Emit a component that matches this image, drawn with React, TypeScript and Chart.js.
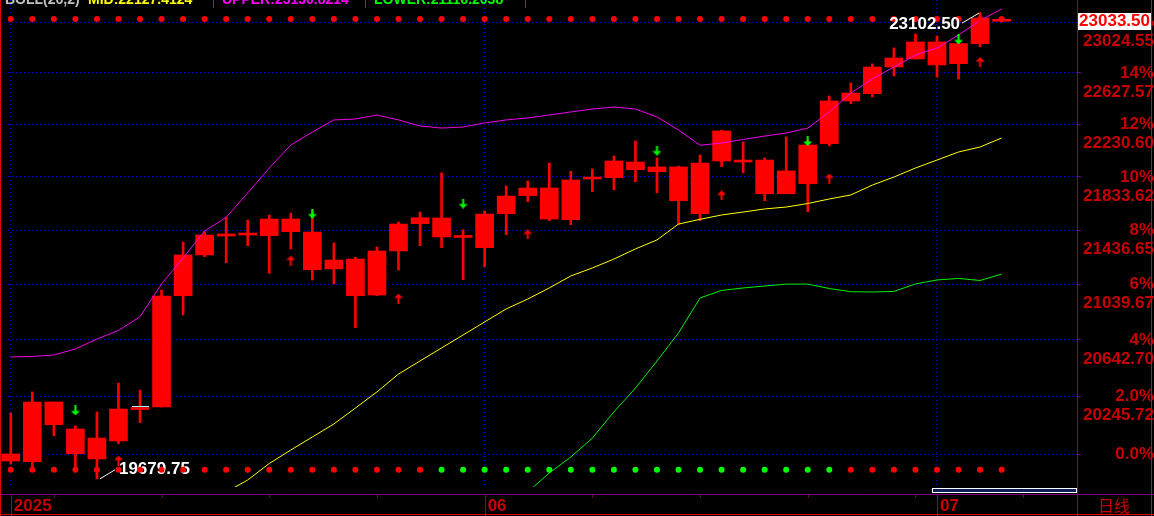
import React, { useEffect, useRef } from 'react';
import { Chart, registerables } from 'chart.js';

Chart.register(...registerables);

// ---------------- data ----------------
const dates = [
  '2025-05-01', '2025-05-02', '2025-05-05', '2025-05-06', '2025-05-07', '2025-05-08', '2025-05-09',
  '2025-05-12', '2025-05-13', '2025-05-14', '2025-05-15', '2025-05-16',
  '2025-05-19', '2025-05-20', '2025-05-21', '2025-05-22', '2025-05-23',
  '2025-05-26', '2025-05-27', '2025-05-28', '2025-05-29', '2025-05-30',
  '2025-06-02', '2025-06-03', '2025-06-04', '2025-06-05', '2025-06-06',
  '2025-06-09', '2025-06-10', '2025-06-11', '2025-06-12', '2025-06-13',
  '2025-06-16', '2025-06-17', '2025-06-18', '2025-06-19', '2025-06-20',
  '2025-06-23', '2025-06-24', '2025-06-25', '2025-06-26', '2025-06-27',
  '2025-06-30', '2025-07-01', '2025-07-02', '2025-07-03', '2025-07-04',
];
const futureSlots = ['', '', ''];

const opens = [
  19801, 19796, 20207, 20020, 19958, 19938, 20155, 20172, 20959, 21255,
  21394, 21401, 21396, 21426, 21423, 21218, 21225, 20964, 21284, 21485,
  21387, 21383, 21308, 21559, 21693, 21750, 21514, 21817, 21827, 21945,
  21908, 21908, 21559, 21953, 21945, 21960, 21707, 21782, 22084, 22411,
  22467, 22674, 22737, 22870, 22700, 22857, 23033.5,
];
const highs = [
  20131, 20277, 20207, 20041, 20138, 20339, 20290, 21000, 21350, 21426,
  21534, 21512, 21549, 21562, 21586, 21343, 21238, 21313, 21497, 21571,
  21863, 21440, 21579, 21765, 21802, 21938, 21875, 21893, 21991, 22104,
  21976, 21915, 21998, 22185, 22097, 21976, 22135, 22112, 22449, 22550,
  22698, 22823, 22933, 22917, 22878, 23102.5, 23038,
];
const lows = [
  19781, 19762, 19974, 19753, 19679.75, 19919, 20064, 20172, 20821, 21242,
  21198, 21323, 21121, 21299, 21073, 21046, 20730, 20959, 21145, 21323,
  21308, 21075, 21169, 21404, 21648, 21507, 21477, 21722, 21737, 21797,
  21715, 21477, 21507, 21910, 21865, 21655, 21707, 21573, 22067, 22390,
  22441, 22604, 22737, 22596, 22581, 22833, 23029,
];
const closes = [
  19849, 20207, 20050, 19851, 19815, 20158, 20155, 20957, 21255, 21401,
  21394, 21401, 21519, 21519, 21147, 21153, 20959, 21284, 21482, 21529,
  21527, 21383, 21556, 21690, 21750, 21519, 21810, 21817, 21953, 21887,
  21872, 21655, 21938, 22181, 21945, 21707, 21878, 22074, 22411, 22472,
  22674, 22744, 22870, 22690, 22857, 23059, 23033.5,
];

// Bollinger-style bands
const upperBand = [
  20522, 20526, 20536, 20579, 20649, 20710, 20808, 21044, 21233, 21431,
  21531, 21713, 21900, 22074, 22173, 22265, 22272, 22303, 22265, 22219,
  22203, 22211, 22242, 22265, 22280, 22303, 22326, 22349, 22364, 22349,
  22288, 22188, 22072, 22089, 22116, 22142, 22165, 22203, 22326, 22472,
  22581, 22674, 22768, 22823, 22925, 23040, 23131,
];
const midBand = [
  19180, 19230, 19280, 19330, 19380, 19420, 19460, 19500, 19530, 19560,
  19591, 19672, 19784, 19876, 19965, 20055, 20165, 20277, 20402, 20494,
  20586, 20678, 20771, 20864, 20935, 21015, 21102, 21160, 21225, 21299,
  21365, 21482, 21517, 21549, 21571, 21594, 21608, 21634, 21668, 21698,
  21772, 21832, 21900, 21960, 22021, 22059, 22127,
];
const lowerBand = [
  18100, 18150, 18200, 18250, 18300, 18350, 18400, 18450, 18500, 18550,
  18600, 18650, 18700, 18750, 18800, 18850, 18900, 18950, 19000, 19100,
  19200, 19300, 19400, 19500, 19591, 19720, 19828, 19958, 20138, 20304,
  20494, 20692, 20943, 20997, 21015, 21029, 21043, 21043, 21011, 20988,
  20986, 20990, 21044, 21073, 21084, 21069, 21116,
];

// signals
const downSignalIdx = [3, 14, 21, 30, 37, 44];
const downSignalPrice = [20148, 21560, 21634, 22032, 22104, 22890];
const upSignalIdx = [5, 13, 18, 24, 33, 38, 45];
const upSignalPrice = [19804, 21214, 20939, 21405, 21694, 21821, 22713];

const topDotLevel = 23051;
const bottomDotLevel = 19742;
const bottomDotState = 'RRRRRRRRRRRRRRRRRRRRGGGGGGGGGGGGGGGGGGGRRRRRRRR'.split('');

const lastPrice = 23033.5;
const markerIdx = 6; // small cyan marker on this bar's close

// axis
const basePrice = 19848.75;
const pctLevels = [0, 2, 4, 6, 8, 10, 12, 14, 16];
const pctLabels = ['0.0%', '2.0%', '4%', '6%', '8%', '10%', '12%', '14%', '16%'];
const priceLabels = ['', '20245.72', '20642.70', '21039.67', '21436.65', '21833.62', '22230.60', '22627.57', '23024.55'];
const yMin = 19624.8;
const yMax = 23202.5;
const xTickIdx = [0, 22, 43];
const xTickText = ['2025', '06', '07'];

const headerParts = [
  { text: 'BOLL(26,2)', color: '#c0c0c0', x: 5 },
  { text: 'MID:22127.4124', color: '#ffff00', x: 88 },
  { text: '|', color: '#ff0000', x: 213 },
  { text: 'UPPER:23130.8214', color: '#ff00ff', x: 222 },
  { text: '|', color: '#ff0000', x: 365 },
  { text: 'LOWER:21116.2038', color: '#00ff00', x: 374 },
  { text: '|', color: '#ff0000', x: 525 },
];

// ---------------- styles ----------------
const RED = '#ff0000';
const AXIS_RED = '#c80000';
const PURPLE = '#800080';
const GRID_BLUE = '#0000c8';
const FONT = '"Liberation Sans", Arial, sans-serif';

function makeArrow(color: string, up: boolean) {
  const c = document.createElement('canvas');
  c.width = 9;
  c.height = 10;
  const g = c.getContext('2d')!;
  g.fillStyle = color;
  if (up) {
    g.beginPath();
    g.moveTo(4.5, 0);
    g.lineTo(9, 4.5);
    g.lineTo(0, 4.5);
    g.closePath();
    g.fill();
    g.fillRect(3.5, 4, 2, 6);
  } else {
    g.fillRect(3.5, 0, 2, 6);
    g.beginPath();
    g.moveTo(0, 5.5);
    g.lineTo(9, 5.5);
    g.lineTo(4.5, 10);
    g.closePath();
    g.fill();
  }
  return c;
}

function line(ctx: CanvasRenderingContext2D, x1: number, y1: number, x2: number, y2: number) {
  ctx.beginPath();
  ctx.moveTo(x1, y1);
  ctx.lineTo(x2, y2);
  ctx.stroke();
}

const decorPlugin = {
  id: 'decor',
  beforeDraw(chart: any) {
    const { ctx, width, height } = chart;
    ctx.save();
    ctx.fillStyle = '#000';
    ctx.fillRect(0, 0, width, height);
    ctx.restore();
  },
  beforeDatasetsDraw(chart: any) {
    const { ctx } = chart;
    const xs = chart.scales.x;
    const ys = chart.scales.y;
    let lowIdx = 0;
    lows.forEach((v, i) => { if (v < lows[lowIdx]) lowIdx = i; });
    const x = xs.getPixelForValue(lowIdx);
    const y = ys.getPixelForValue(lows[lowIdx]);
    ctx.save();
    ctx.strokeStyle = '#ffffff';
    ctx.lineWidth = 1;
    line(ctx, x + 3, y, x + 18, y - 9);
    ctx.fillStyle = '#ffffff';
    ctx.font = `bold 17px ${FONT}`;
    ctx.textAlign = 'left';
    ctx.textBaseline = 'middle';
    ctx.fillText(lows[lowIdx].toFixed(2), x + 22, y - 10);
    ctx.restore();
  },
  afterDatasetsDraw(chart: any) {
    const { ctx } = chart;
    const xs = chart.scales.x;
    const ys = chart.scales.y;
    const mx = xs.getPixelForValue(markerIdx);
    const my = Math.round(ys.getPixelForValue(closes[markerIdx])) - 2.5;
    ctx.save();
    ctx.strokeStyle = '#9fffff';
    ctx.lineWidth = 1;
    line(ctx, mx - 8, my, mx + 9, my);
    ctx.restore();
  },
  afterDraw(chart: any) {
    const { ctx } = chart;
    const xs = chart.scales.x;
    const ys = chart.scales.y;
    const W = 1154;
    const H = 516;
    const axisY = 494.5;
    const rightX = 1077.5;
    ctx.save();
    ctx.lineWidth = 1;
    // scroll bar
    ctx.fillStyle = '#0c1f5c';
    ctx.fillRect(932, 488, 145, 5);
    ctx.strokeStyle = '#ffffff';
    ctx.strokeRect(932.5, 488.5, 144, 4);
    // purple axis lines
    ctx.strokeStyle = PURPLE;
    line(ctx, 0, axisY, W, axisY);
    line(ctx, rightX, 0, rightX, H);
    xTickIdx.forEach((i) => {
      const px = Math.round(xs.getPixelForValue(i)) + 0.5;
      line(ctx, px, axisY, px, H);
    });
    const nSlots = dates.length + futureSlots.length;
    for (let i = 2; i < nSlots; i += 5) {
      const px = Math.round(xs.getPixelForValue(i)) + 0.5;
      line(ctx, px, axisY, px, axisY + 3);
    }
    // red frame
    ctx.strokeStyle = '#e00000';
    line(ctx, 0.5, 0, 0.5, H);
    line(ctx, 1151.5, 0, 1151.5, H);
    line(ctx, 0, 514.5, W, 514.5);
    // period label
    ctx.fillStyle = AXIS_RED;
    ctx.font = '16px "Noto Sans CJK SC"';
    ctx.textAlign = 'center';
    ctx.textBaseline = 'middle';
    ctx.fillText('日线', 1114, 506);
    // current price box
    const py = ys.getPixelForValue(lastPrice);
    ctx.fillStyle = '#ffffff';
    ctx.fillRect(1078, Math.round(py - 8.5), 73, 17);
    ctx.fillStyle = RED;
    ctx.font = `bold 17px ${FONT}`;
    ctx.textAlign = 'right';
    ctx.fillText(lastPrice.toFixed(2), 1150, py + 0.5);
    // high annotation
    let hiIdx = 0;
    highs.forEach((v, i) => { if (v > highs[hiIdx]) hiIdx = i; });
    const hx = xs.getPixelForValue(hiIdx);
    const hy = ys.getPixelForValue(highs[hiIdx]);
    ctx.strokeStyle = '#ffffff';
    line(ctx, hx - 1, hy + 0.5, hx - 18, hy + 10.5);
    ctx.fillStyle = '#ffffff';
    ctx.textAlign = 'right';
    ctx.fillText(highs[hiIdx].toFixed(2), hx - 20, hy + 11.5);
    // header (clipped at top of the window)
    ctx.font = `bold 14px ${FONT}`;
    ctx.textAlign = 'left';
    ctx.textBaseline = 'alphabetic';
    headerParts.forEach((p) => {
      ctx.fillStyle = p.color;
      if (p.text === '|') {
        ctx.fillRect(p.x, 0, 1, 8);
      } else {
        ctx.fillText(p.text, p.x, 4);
      }
    });
    ctx.restore();
  },
};

export default function App() {
  const ref = useRef<HTMLCanvasElement>(null);

  useEffect(() => {
    const canvas = ref.current;
    if (!canvas) return;
    const upArrow = makeArrow('#ff0000', true);
    const downArrow = makeArrow('#00ff00', false);
    const labels = [...dates, ...futureSlots];

    const bodyData = opens.map((o, i) => [o, closes[i]]);
    const wickData = lows.map((l, i) => [l, highs[i]]);
    const upData: (number | null)[] = dates.map(() => null);
    upSignalIdx.forEach((idx, k) => { upData[idx] = upSignalPrice[k]; });
    const downData: (number | null)[] = dates.map(() => null);
    downSignalIdx.forEach((idx, k) => { downData[idx] = downSignalPrice[k]; });
    const topDots = dates.map(() => topDotLevel);
    const bottomDots = dates.map(() => bottomDotLevel);
    const bottomColors = bottomDotState.map((s) => (s === 'G' ? '#00ff00' : '#ff0000'));

    const tickFont = { family: FONT, size: 17, weight: 'bold' as const, lineHeight: 1.12 };

    const chart = new Chart(canvas, {
      type: 'bar',
      data: {
        labels,
        datasets: [
          {
            type: 'line',
            label: 'down',
            data: downData,
            showLine: false,
            pointStyle: downArrow as any,
            pointRadius: 5,
            order: 1,
          } as any,
          {
            type: 'line',
            label: 'up',
            data: upData,
            showLine: false,
            pointStyle: upArrow as any,
            pointRadius: 5,
            order: 1,
          } as any,
          {
            type: 'line',
            label: 'topDots',
            data: topDots,
            showLine: false,
            pointRadius: 3,
            pointBorderWidth: 0,
            pointBackgroundColor: '#ff0000',
            order: 2,
          } as any,
          {
            type: 'line',
            label: 'bottomDots',
            data: bottomDots,
            showLine: false,
            pointRadius: 3,
            pointBorderWidth: 0,
            pointBackgroundColor: bottomColors,
            order: 2,
          } as any,
          {
            type: 'line',
            label: 'UPPER',
            data: upperBand,
            borderColor: '#f000f0',
            borderWidth: 1,
            pointRadius: 0,
            tension: 0,
            order: 3,
          } as any,
          {
            type: 'line',
            label: 'MID',
            data: midBand,
            borderColor: '#ffff00',
            borderWidth: 1,
            pointRadius: 0,
            tension: 0,
            order: 3,
          } as any,
          {
            type: 'line',
            label: 'LOWER',
            data: lowerBand,
            borderColor: '#00f000',
            borderWidth: 1,
            pointRadius: 0,
            tension: 0,
            order: 3,
          } as any,
          {
            label: 'body',
            data: bodyData as any,
            backgroundColor: RED,
            borderWidth: 0,
            grouped: false,
            maxBarThickness: 18,
            barPercentage: 1,
            categoryPercentage: 1,
            minBarLength: 2,
            order: 10,
          } as any,
          {
            label: 'wick',
            data: wickData as any,
            backgroundColor: RED,
            borderWidth: 0,
            grouped: false,
            maxBarThickness: 2,
            barPercentage: 1,
            categoryPercentage: 1,
            order: 11,
          } as any,
        ],
      },
      options: {
        animation: false,
        responsive: false,
        events: [],
        layout: { padding: 0, autoPadding: false },
        plugins: {
          legend: { display: false },
          tooltip: { enabled: false },
        },
        scales: {
          x: {
            type: 'category',
            offset: true,
            grid: {
              display: true,
              offset: false,
              color: GRID_BLUE,
              lineWidth: 1,
              drawTicks: false,
            },
            border: { display: false, dash: [1, 3] },
            ticks: {
              autoSkip: false,
              maxRotation: 0,
              minRotation: 0,
              align: 'start',
              labelOffset: 3,
              padding: 10,
              color: AXIS_RED,
              font: tickFont,
              callback: (_v: any, i: number) => xTickText[i],
            },
            afterBuildTicks: (s: any) => {
              s.ticks = xTickIdx.map((v) => ({ value: v }));
            },
            afterFit: (s: any) => {
              s.height = 29;
              s.paddingLeft = 0;
              s.paddingRight = 0;
            },
          } as any,
          y: {
            type: 'logarithmic',
            position: 'right',
            min: yMin,
            max: yMax,
            bounds: 'data',
            grid: {
              color: GRID_BLUE,
              lineWidth: 1,
              drawTicks: true,
              tickLength: 4,
              tickColor: PURPLE,
              tickBorderDash: [],
            },
            border: { display: false, dash: [1, 3] },
            ticks: {
              autoSkip: false,
              crossAlign: 'far',
              padding: -7,
              labelOffset: 9.5,
              color: AXIS_RED,
              font: tickFont,
              callback: (_v: any, i: number) => [pctLabels[i], priceLabels[i]],
            },
            afterBuildTicks: (s: any) => {
              s.ticks = pctLevels.map((p) => ({ value: basePrice * (1 + p / 100) }));
            },
            afterFit: (s: any) => {
              s.width = 77;
              s.paddingTop = 0;
              s.paddingBottom = 0;
            },
          } as any,
        },
      } as any,
      plugins: [decorPlugin as any],
    });
    return () => chart.destroy();
  }, []);

  return (
    <div style={{ position: 'absolute', left: 0, top: 0, width: 1154, height: 516, background: '#000' }}>
      <canvas ref={ref} width={1154} height={516} style={{ display: 'block' }} />
    </div>
  );
}
